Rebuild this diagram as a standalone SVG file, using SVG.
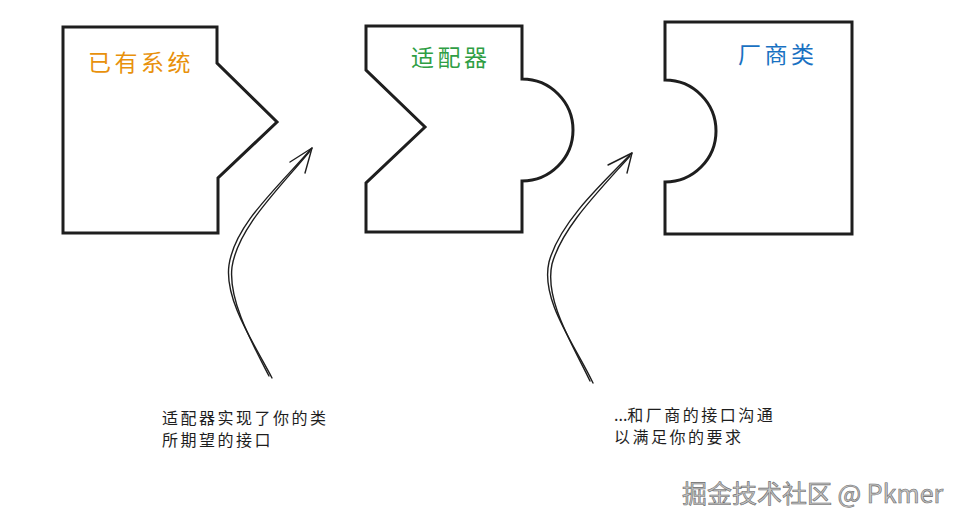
<svg xmlns="http://www.w3.org/2000/svg" width="962" height="525" viewBox="0 0 962 525">
<style>
.box{fill:#fff;stroke:#1e1e1e;stroke-width:3;stroke-linejoin:miter}
.title{font-family:"Noto Sans CJK SC","Noto Sans",sans-serif;font-size:23px;letter-spacing:3.5px}
.note{font-family:"Noto Sans CJK SC","Noto Sans",sans-serif;font-size:16px;fill:#1e1e1e;letter-spacing:2.5px}
.arr{fill:none;stroke:#1e1e1e;stroke-width:1.4;stroke-linecap:round;stroke-linejoin:round}
.wm{font-family:"Noto Sans CJK SC","Liberation Sans",sans-serif;font-size:25px;fill:#c4c4c4;stroke:#6a6a6a;stroke-width:0.6}
</style>
<rect width="962" height="525" fill="#fff"/>
<g id="existing-system">
<path class="box" d="M63,27 H217 V63 L277,122 L218,178 V233 H63 Z"/>
<text class="title" x="88" y="71" fill="#e8910c">已有系统</text>
</g>
<g id="adapter">
<path class="box" d="M366,26 H522 V79 A51,51 0 0 1 522,181 V232 H366 V183 L425,127 L366,70 Z"/>
<text class="title" x="411" y="66" fill="#2f9e44">适配器</text>
</g>
<g id="vendor-class">
<path class="box" d="M665,22 H852 V234 H665 V182 A51,51 0 0 0 665,80 Z"/>
<text class="title" x="738" y="63" fill="#1971c2">厂商类</text>
</g>
<g id="connectors">
<path class="arr" d="M272,378 C255,345 224,300 229,265 C235,225 275,190 312,148"/>
<path class="arr" d="M269,376 C252,343 228,300 232,267 C238,228 276,192 310,151"/>
<path class="arr" d="M290,162 L312,148 L305,173"/>
<path class="arr" d="M593,383 C575,345 540,300 549,262 C559,225 595,190 632,153"/>
<path class="arr" d="M590,381 C573,345 544,300 552,264 C562,228 597,193 630,156"/>
<path class="arr" d="M608,165 L632,153 L627,173"/>
</g>
<g id="note-left">
<text class="note" x="162" y="424">适配器实现了你的类</text>
<text class="note" x="162" y="446">所期望的接口</text>
</g>
<g id="note-right">
<text class="note" x="614" y="421"><tspan letter-spacing="0">...</tspan>和厂商的接口沟通</text>
<text class="note" x="614" y="443">以满足你的要求</text>
</g>
<text class="wm" x="682" y="503">掘金技术社区 @ Pkmer</text>
</svg>
